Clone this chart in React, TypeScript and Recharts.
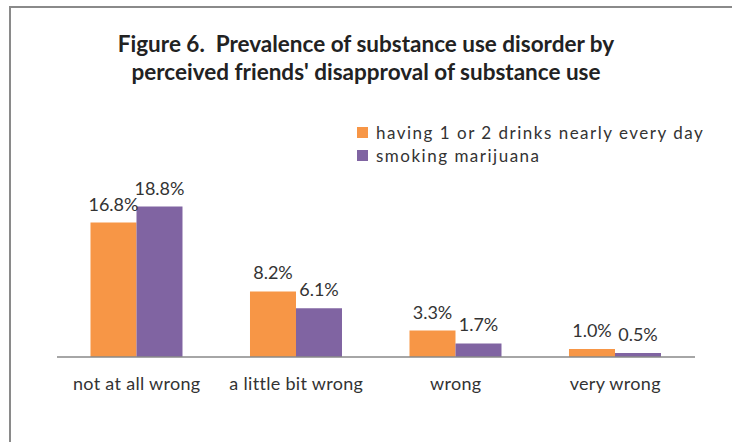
import React from "react";
import { BarChart, Bar, XAxis, YAxis, LabelList } from "recharts";

const categories = ["not at all wrong", "a little bit wrong", "wrong", "very wrong"];
const drinks = [16.8, 8.2, 3.3, 1.0];
const marijuana = [18.8, 6.1, 1.7, 0.5];
const seriesNames = ["having 1 or 2 drinks nearly every day", "smoking marijuana"];
const seriesColors = ["#F79646", "#8064A2"];

const data = categories.map((c, i) => ({
  category: c,
  drinks: drinks[i],
  marijuana: marijuana[i],
}));

const FONT = "Lato, 'Noto Sans', sans-serif";
const TEXT = "#333333";

const fmt = (v: any) => `${Number(v).toFixed(1)}%`;

export default function App() {
  return (
    <div
      style={{
        position: "absolute",
        left: 0,
        top: 0,
        width: 732,
        height: 442,
        background: "#fff",
        overflow: "hidden",
      }}
    >
      <div
        style={{
          position: "absolute",
          left: 9,
          top: 6,
          width: 760,
          height: 480,
          borderTop: "2px solid #8a8a8a",
          borderLeft: "2px solid #8a8a8a",
        }}
      />
      <div
        style={{
          position: "absolute",
          left: 0,
          top: 30,
          width: 732,
          textAlign: "center",
          fontFamily: FONT,
          fontWeight: "bold",
          fontSize: 22.5,
          lineHeight: "28px",
          color: "#222",
        }}
      >
        Figure 6.&nbsp; Prevalence of substance use disorder by
        <br />
        perceived friends' disapproval of substance use
      </div>

      {/* legend */}
      <div
        style={{
          position: "absolute",
          left: 357,
          top: 121,
          fontFamily: FONT,
          fontSize: 17,
          color: TEXT,
        }}
      >
        {seriesNames.map((name, i) => (
          <div key={i} style={{ display: "flex", alignItems: "center", height: 23 }}>
            <span
              style={{
                display: "inline-block",
                width: 11,
                height: 11,
                background: seriesColors[i],
                marginRight: 8,
              }}
            />
            <span style={{ letterSpacing: 1.5, whiteSpace: "nowrap" }}>{name}</span>
          </div>
        ))}
      </div>

      <div style={{ position: "absolute", left: 0, top: 0 }}>
        <BarChart
          width={732}
          height={442}
          data={data}
          margin={{ top: 197, right: 37, left: 57, bottom: 45 }}
          barCategoryGap="21%"
          barGap={0}
        >
          <XAxis
            dataKey="category"
            height={40}
            tickLine={false}
            tickSize={0}
            tickMargin={20}
            axisLine={{ stroke: "#888888", strokeWidth: 1.5 }}
            tick={{ fill: TEXT, fontSize: 18, fontFamily: FONT, letterSpacing: 0.3 }}
            interval={0}
          />
          <YAxis hide width={0} domain={[0, 20]} />
          <Bar
            dataKey="drinks"
            name={seriesNames[0]}
            fill={seriesColors[0]}
            isAnimationActive={false}
          >
            <LabelList
              dataKey="drinks"
              position="top"
              offset={12}
              formatter={fmt}
              style={{ fill: TEXT, fontSize: 18, fontFamily: FONT }}
            />
          </Bar>
          <Bar
            dataKey="marijuana"
            name={seriesNames[1]}
            fill={seriesColors[1]}
            isAnimationActive={false}
          >
            <LabelList
              dataKey="marijuana"
              position="top"
              offset={12}
              formatter={fmt}
              style={{ fill: TEXT, fontSize: 18, fontFamily: FONT }}
            />
          </Bar>
        </BarChart>
      </div>
    </div>
  );
}
